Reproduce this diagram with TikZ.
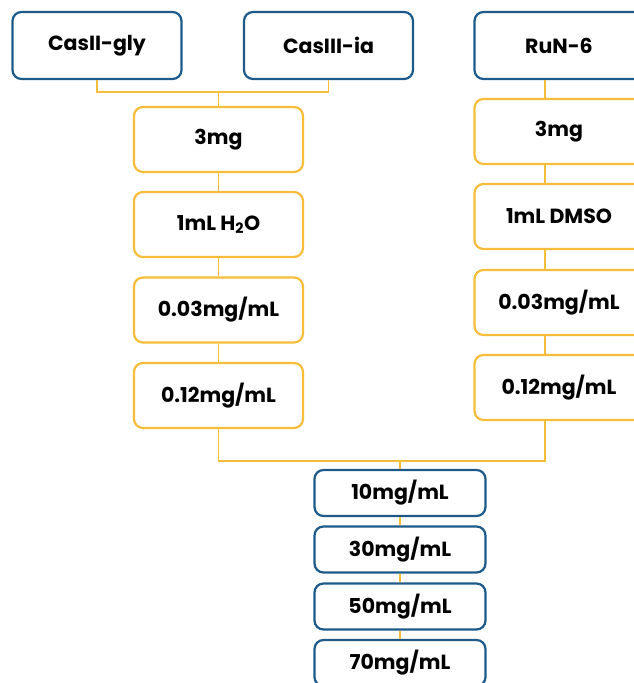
\documentclass[tikz,border=0pt]{standalone}
\usepackage{fontspec}
\setmainfont{Poppins}
\definecolor{boxblue}{HTML}{1D5A8A}
\definecolor{boxgold}{HTML}{F5BD3A}

\begin{document}
\begin{tikzpicture}[x=1pt, y=-1pt,
	box/.style={draw, line width=2.2pt, rounded corners=9pt, fill=white, minimum width=169pt, inner sep=0pt, font=\bfseries\fontsize{20.5}{24}\selectfont},
	bluebox/.style={box, draw=boxblue, minimum height=67pt},
	goldbox/.style={box, draw=boxgold, minimum height=65pt},
	dosebox/.style={box, draw=boxblue, minimum width=171pt, minimum height=46pt},
	link/.style={draw=boxgold, line width=1.8pt}]
	\clip (0,0) rectangle (634,683);
	% sources
	\node[bluebox] (c2g) at (97,45.5) {CasII-gly};
	\node[bluebox] (c3i) at (328.5,45.5) {CasIII-ia};
	\node[bluebox] (run) at (559,45.5) {RuN-6};
	% left preparation
	\node[goldbox] (l3mg) at (218.5,139.5) {3mg};
	\node[goldbox] (lwater) at (218.5,224.5) {1mL H\textsubscript{2}O};
	\node[goldbox] (l003) at (218.5,310) {0.03mg/mL};
	\node[goldbox] (l012) at (218.5,395.5) {0.12mg/mL};
	% right preparation
	\node[goldbox] (r3mg) at (559,131.5) {3mg};
	\node[goldbox] (rdmso) at (559,216.5) {1mL DMSO};
	\node[goldbox] (r003) at (559,302.5) {0.03mg/mL};
	\node[goldbox] (r012) at (559,387.5) {0.12mg/mL};
	% doses
	\node[dosebox] (m10) at (400,493) {10mg/mL};
	\node[dosebox] (m30) at (400,549.5) {30mg/mL};
	\node[dosebox] (m50) at (400,606.5) {50mg/mL};
	\node[dosebox] (m70) at (400,663) {70mg/mL};
	% connectors
	\coordinate (topjoin) at (218.5,92);
	\coordinate (botjoin) at (400,461);
	\draw[link] (c2g.south) |- (topjoin) -| (c3i.south);
	\draw[link] (topjoin) -- (l3mg.north);
	\draw[link] (l3mg) -- (lwater) (lwater) -- (l003) (l003) -- (l012);
	\draw[link] ([xshift=-14pt]run.south) -- ([xshift=-14pt]r3mg.north);
	\draw[link] ([xshift=-14pt]r3mg.south) -- ([xshift=-14pt]rdmso.north);
	\draw[link] ([xshift=-14pt]rdmso.south) -- ([xshift=-14pt]r003.north);
	\draw[link] ([xshift=-14pt]r003.south) -- ([xshift=-14pt]r012.north);
	\draw[link] (l012.south) |- (botjoin) -| ([xshift=-14pt]r012.south);
	\draw[link] (botjoin) -- (m10.north);
	\draw[link] (m10) -- (m30) (m30) -- (m50) (m50) -- (m70);
\end{tikzpicture}
\end{document}
